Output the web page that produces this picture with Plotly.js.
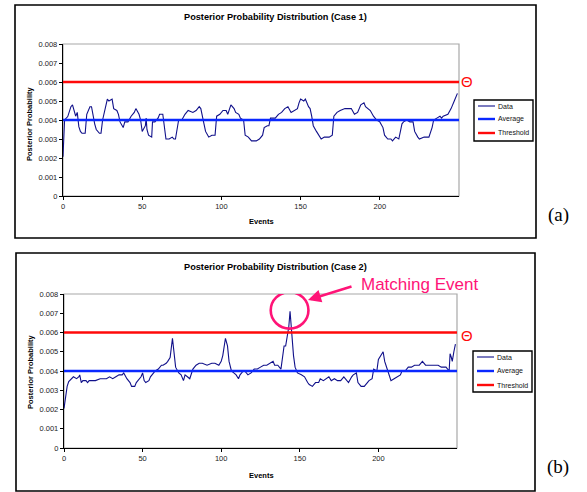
<!DOCTYPE html>
<html>
<head>
<meta charset="utf-8">
<script src="https://cdn.plot.ly/plotly-3.0.1.min.js"></script>
<style>html,body{margin:0;padding:0;background:#fff;}#chart{width:587px;height:492px;}</style>
</head>
<body>
<div id="chart"></div>
<script>
// ---- Data ----
var eventsA = [0,1,3,5,6,7,8,9,10,11,12,14,15,17,18,20,21,23,24,25,27,28,29,31,32,34,35,36,38,39,41,43,45,46,48,49,50,52,52.5,53,54,56,56.5,58,60,61,63,64,65,67,69,70,71,73,75,77,79,82,84,86,87,89,90,92,94,96,97,99,101,103,104,106,108,109,111,112,114,115,117,119,120,122,124,126,127,129,130,131,133,134,136,138,140,142,144,146,148,149,150,152,153,155,156,157,158,160,162,163,165,168,170,171,173,175,178,182,184,186,188,190,191,194,196,198,200,202,203,205,207,208,210,212,214,215,217,219,221,222,224,225,228,230,231,233,234,236,238,239,240,243,245,247,249];
var valuesA = [0.00207,0.0040,0.00418,0.0047,0.0048,0.0045,0.0042,0.0044,0.00365,0.0034,0.0033,0.0033,0.0043,0.0047,0.0047,0.0038,0.0035,0.0033,0.0033,0.0040,0.0047,0.0051,0.0050,0.0051,0.0046,0.0045,0.0043,0.0039,0.0036,0.0039,0.0039,0.0042,0.0044,0.0046,0.0043,0.0040,0.0034,0.0037,0.0041,0.0035,0.0032,0.0031,0.0039,0.0039,0.0041,0.0043,0.0043,0.0037,0.0030,0.0030,0.0031,0.0030,0.0030,0.0040,0.0040,0.0043,0.0045,0.0044,0.0045,0.0047,0.0046,0.0038,0.0034,0.0031,0.0032,0.0032,0.0042,0.0043,0.0045,0.0045,0.0043,0.0048,0.0046,0.0044,0.0043,0.0041,0.0040,0.0032,0.0031,0.0029,0.0029,0.0029,0.0030,0.0032,0.0036,0.0037,0.0037,0.0041,0.0041,0.0041,0.0043,0.0044,0.0046,0.0047,0.0044,0.0045,0.0046,0.0049,0.0051,0.0050,0.0051,0.0047,0.0046,0.0042,0.0037,0.0034,0.0031,0.0030,0.0031,0.0031,0.0032,0.0042,0.0044,0.0045,0.0046,0.0046,0.0043,0.0044,0.0048,0.0049,0.0047,0.0045,0.0042,0.0040,0.0039,0.0036,0.0032,0.0030,0.0030,0.0029,0.0031,0.0030,0.0038,0.0039,0.0040,0.0039,0.0039,0.0034,0.0031,0.0030,0.0031,0.0031,0.0031,0.0036,0.0040,0.0041,0.0042,0.0041,0.0042,0.0043,0.0046,0.0050,0.0054,0.0055];

var eventsB = [0,1,2,3,5,6,8,9.5,10,11,12,14,15,16,18,20,23,25,27,29,31,33,35,37,38,40,42,43,45,46,48,49,50,51,52,54,55,57,58,60,62,63,65,66,67.5,69,70,71,73,74.5,76,77,78.5,80,82,84,86,88,91,94,96,98.5,100,101,102.7,104,105,106.5,108,109.5,111,112,114,115,117,119,121,123,125,127,129,131,133,134,136,138,139,140,141,142,143,143.8,144.7,146,147,148.5,151,153,155,156,158,160,162,163,165,167,168.5,170,172,174,176,178,179,181,183,184,186,187,189,191,193,194,196,197,199,200,203,204,206,208,210,212,214,215,217,219,221,223,224,226,228,230,232,234,236,238,240,243,245,245.6,246.4,247,248,249];
var valuesB = [0.00205,0.00275,0.0032,0.00345,0.0036,0.0037,0.0036,0.0037,0.0038,0.0034,0.0035,0.0035,0.0034,0.0035,0.0035,0.0035,0.0036,0.0036,0.0036,0.0037,0.0036,0.0037,0.0038,0.0038,0.0039,0.0036,0.0034,0.0032,0.0032,0.0034,0.0036,0.0037,0.0039,0.0035,0.0034,0.0035,0.0037,0.0039,0.0040,0.0041,0.0043,0.0043,0.0044,0.0045,0.0047,0.0057,0.0048,0.0042,0.0039,0.0038,0.0035,0.0038,0.0037,0.0036,0.0041,0.0043,0.0044,0.0044,0.0043,0.0044,0.0044,0.0043,0.0045,0.0048,0.0057,0.0053,0.0045,0.0040,0.0039,0.0038,0.0036,0.0038,0.0040,0.0040,0.0038,0.0039,0.0041,0.0041,0.0042,0.0043,0.0043,0.0044,0.0045,0.0043,0.0043,0.0041,0.0047,0.0053,0.0053,0.0059,0.0063,0.0071,0.0060,0.0048,0.0042,0.0039,0.0038,0.0037,0.0034,0.0033,0.0032,0.0034,0.0034,0.0036,0.0035,0.0036,0.0037,0.0035,0.0036,0.0035,0.0035,0.0037,0.0036,0.0034,0.0037,0.0038,0.0039,0.0034,0.0032,0.0032,0.0034,0.0035,0.0036,0.0041,0.0040,0.0046,0.0050,0.0045,0.0040,0.0035,0.0036,0.0037,0.0038,0.0040,0.0040,0.0042,0.0042,0.0043,0.0043,0.0043,0.0045,0.0043,0.0043,0.0043,0.0043,0.0043,0.0042,0.0042,0.0040,0.0049,0.0047,0.0045,0.0050,0.0054];

var xRange = [0, 250];
var average = 0.004;
var threshold = 0.006;
var yTicks = [0,0.001,0.002,0.003,0.004,0.005,0.006,0.007,0.008];
var xTicks = [0,50,100,150,200];
var seriesNames = ["Data","Average","Threshold"];
var titles = ["Posterior Probability Distribution (Case 1)","Posterior Probability Distribution (Case 2)"];
var panelLabels = ["(a)","(b)"];
var yTitle = "Posterior Probability";
var xTitle = "Events";
var calloutText = "Matching Event";
var thetaText = "Θ";

// ---- Styles ----
var W = 587, H = 492;
var dataStyle = {color:"#10108a", width:1.1};
var avgStyle = {color:"#0a28ff", width:2.6};
var thrStyle = {color:"#ff0a0a", width:2.6};
var pink = "#ff1477";
function px(x){return x/W;}
function py(y){return 1 - y/H;}

var panels = [
  {xa:"x", ya:"y", plot:[63,459,44,196], box:[15,536,5,238], legend:[474,533,100,141,106,119,133], titleY:17, xTitleY:222, xTitleX:261, yTitleX:30, yTitleY:124, labelY:215, thetaY:82},
  {xa:"x2", ya:"y2", plot:[64,457,294,448], box:[16,535,253,491], legend:[473,532,351,392,357,371,385], titleY:267, xTitleY:475, xTitleX:261, yTitleX:30, yTitleY:372, labelY:467, thetaY:335}
];

var traces = [];
var series = [[eventsA, valuesA],[eventsB, valuesB]];
panels.forEach(function(p,i){
  traces.push({x:series[i][0], y:series[i][1], xaxis:p.xa, yaxis:p.ya, type:"scatter", mode:"lines", name:seriesNames[0], line:dataStyle, showlegend:false, hoverinfo:"skip"});
  traces.push({x:xRange, y:[average,average], xaxis:p.xa, yaxis:p.ya, type:"scatter", mode:"lines", name:seriesNames[1], line:avgStyle, showlegend:false, hoverinfo:"skip"});
  traces.push({x:xRange, y:[threshold,threshold], xaxis:p.xa, yaxis:p.ya, type:"scatter", mode:"lines", name:seriesNames[2], line:thrStyle, showlegend:false, hoverinfo:"skip"});
});

var tickFont = {family:"Liberation Sans, Arial, sans-serif", size:7.5, color:"#222"};
function xaxisDef(p){
  return {domain:[px(p.plot[0]), px(p.plot[1])], range:xRange, tickvals:xTicks, ticks:"outside", ticklen:3, tickcolor:"#000",
    showline:true, linecolor:"#000", linewidth:1.2, showgrid:false, zeroline:false, tickfont:tickFont, fixedrange:true};
}
function yaxisDef(p){
  return {domain:[py(p.plot[3]), py(p.plot[2])], range:[0,0.008], tickvals:yTicks, ticktext:yTicks.map(function(v){return v===0?"0":v.toFixed(3);}),
    ticks:"outside", ticklen:3, tickcolor:"#000", showline:true, linecolor:"#000", linewidth:1.2, showgrid:false, zeroline:false, tickfont:tickFont, fixedrange:true};
}

var shapes = [], annotations = [];
var boldFont = {family:"Liberation Sans, Arial, sans-serif", size:9.2, color:"#000"};
panels.forEach(function(p,i){
  shapes.push({type:"rect", xref:"paper", yref:"paper", x0:px(p.box[0]), x1:px(p.box[1]), y0:py(p.box[3]), y1:py(p.box[2]), line:{color:"#000", width:1.6}, layer:"below"});
  shapes.push({type:"rect", xref:"paper", yref:"paper", x0:px(p.plot[0]), x1:px(p.plot[1]), y0:py(p.plot[3]), y1:py(p.plot[2]), line:{color:"#a8a8a8", width:1.2}, layer:"below"});
  var L = p.legend;
  shapes.push({type:"rect", xref:"paper", yref:"paper", x0:px(L[0]), x1:px(L[1]), y0:py(L[3]), y1:py(L[2]), line:{color:"#000", width:1.4}, fillcolor:"#fff"});
  var styles = [{color:dataStyle.color, width:1.1},{color:avgStyle.color,width:2.4},{color:thrStyle.color,width:2.4}];
  [L[4],L[5],L[6]].forEach(function(ly,k){
    shapes.push({type:"line", xref:"paper", yref:"paper", x0:px(L[0]+4), x1:px(L[0]+21), y0:py(ly), y1:py(ly), line:styles[k]});
    annotations.push({xref:"paper", yref:"paper", x:px(L[0]+22), y:py(ly), xanchor:"left", yanchor:"middle", text:seriesNames[k], showarrow:false,
      font:{family:"Liberation Sans, Arial, sans-serif", size:7, color:"#111"}});
  });
  annotations.push({xref:"paper", yref:"paper", x:px(275), y:py(p.titleY), xanchor:"center", yanchor:"middle", text:"<b>"+titles[i]+"</b>", showarrow:false, font:boldFont});
  annotations.push({xref:"paper", yref:"paper", x:px(p.xTitleX), y:py(p.xTitleY), xanchor:"center", yanchor:"middle", text:"<b>"+xTitle+"</b>", showarrow:false, font:{family:"Liberation Sans, Arial, sans-serif", size:7.5, color:"#000"}});
  annotations.push({xref:"paper", yref:"paper", x:px(p.yTitleX), y:py(p.yTitleY), xanchor:"center", yanchor:"middle", textangle:-90, text:"<b>"+yTitle+"</b>", showarrow:false, font:{family:"Liberation Sans, Arial, sans-serif", size:7.5, color:"#000"}});
  annotations.push({xref:"paper", yref:"paper", x:px(558), y:py(p.labelY), xanchor:"center", yanchor:"middle", text:panelLabels[i], showarrow:false, font:{family:"Liberation Serif, Times New Roman, serif", size:19, color:"#000"}});
  annotations.push({xref:"paper", yref:"paper", x:px(467), y:py(p.thetaY), xanchor:"center", yanchor:"middle", text:thetaText, showarrow:false, font:{family:"Liberation Sans, Arial, sans-serif", size:15, color:thrStyle.color}});
});

shapes.push({type:"circle", xref:"x2", yref:"y2", x0:131.5, x1:155.5, y0:0.0062, y1:0.0081, line:{color:pink, width:2.6}});
annotations.push({xref:"paper", yref:"paper", x:px(359), y:py(284), xanchor:"left", yanchor:"middle", text:calloutText, showarrow:false, font:{family:"Liberation Sans, Arial, sans-serif", size:17, color:pink}});
annotations.push({xref:"paper", yref:"paper", x:px(308), y:py(300), text:"", showarrow:true, arrowhead:2, arrowsize:1, arrowwidth:2.6, arrowcolor:pink, ax:45, ay:-14, standoff:0});

var layout = {
  width:W, height:H, margin:{l:0,r:0,t:0,b:0}, paper_bgcolor:"#fff", plot_bgcolor:"#fff", showlegend:false,
  xaxis:Object.assign(xaxisDef(panels[0]), {anchor:"y"}),
  yaxis:Object.assign(yaxisDef(panels[0]), {anchor:"x"}),
  xaxis2:Object.assign(xaxisDef(panels[1]), {anchor:"y2"}),
  yaxis2:Object.assign(yaxisDef(panels[1]), {anchor:"x2"}),
  shapes:shapes, annotations:annotations
};
Plotly.newPlot("chart", traces, layout, {staticPlot:true, displayModeBar:false});
</script>
</body>
</html>
